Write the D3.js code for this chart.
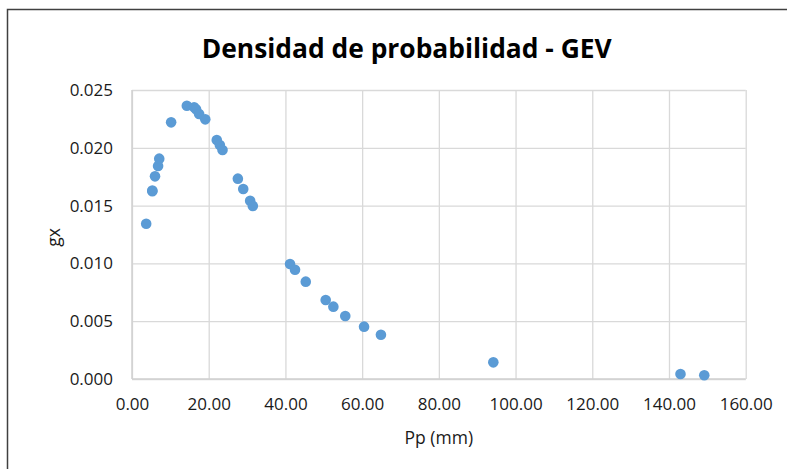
<!DOCTYPE html>
<html>
<head>
<meta charset="utf-8">
<script src="https://cdn.jsdelivr.net/npm/d3@7"></script>
<style>
  html, body { margin: 0; padding: 0; background: #fff; }
  svg { display: block; }
</style>
</head>
<body>
<svg id="chart" width="787" height="469"></svg>
<script>
const title = "Densidad de probabilidad - GEV";
const xTitle = "Pp (mm)";
const yTitle = "gx";
const xTicks = [0, 20, 40, 60, 80, 100, 120, 140, 160];
const yTicks = [0, 0.005, 0.010, 0.015, 0.020, 0.025];
const pp = [3.7, 5.3, 5.3, 6.0, 6.8, 7.1, 10.2, 14.3, 16.2, 16.7, 17.5, 19.1, 22.1, 22.9, 23.6,
            27.6, 29.0, 30.8, 31.5, 41.2, 42.5, 45.3, 50.5, 52.5, 55.6, 60.5, 64.9, 94.2, 143.0, 149.2];
const gx = [0.01343, 0.01624, 0.0163, 0.01753, 0.01843, 0.01906, 0.0222, 0.02364, 0.0235, 0.02333,
            0.02292, 0.02246, 0.02067, 0.02024, 0.01981, 0.01733, 0.01644, 0.01542, 0.01497, 0.00995,
            0.00945, 0.00842, 0.00683, 0.00626, 0.00545, 0.00453, 0.00383, 0.00144, 0.00043, 0.00032];

const svg = d3.select("#chart");
const font = "'Open Sans', 'Liberation Sans', sans-serif";
const pLeft = 132, pRight = 745.7, pTop = 90, pBottom = 379;

// chart border
svg.append("rect").attr("x", 7.5).attr("y", 9.5).attr("width", 800).attr("height", 500)
  .attr("fill", "#fff").attr("stroke", "#404040").attr("stroke-width", 1.5);

const x = d3.scaleLinear().domain([0, 160]).range([pLeft, pRight]);
const y = d3.scaleLinear().domain([0, 0.025]).range([pBottom, pTop]);

// gridlines
const yAxis = d3.axisLeft(y).tickValues(yTicks).tickSize(-(pRight - pLeft)).tickFormat(d3.format(".3f")).tickPadding(19);
const gy = svg.append("g").attr("transform", `translate(${pLeft},0)`).call(yAxis);
gy.select(".domain").remove();
gy.selectAll(".tick line").attr("stroke", "#d9d9d9").attr("stroke-width", 1.3);
gy.selectAll(".tick text").attr("font-family", font).attr("font-size", 17).attr("fill", "#1a1a1a");

const xAxis = d3.axisBottom(x).tickValues(xTicks).tickSize(-(pBottom - pTop)).tickFormat(d3.format(".2f")).tickPadding(19);
const gxA = svg.append("g").attr("transform", `translate(0,${pBottom})`).call(xAxis);
gxA.select(".domain").remove();
gxA.selectAll(".tick line").attr("stroke", "#d9d9d9").attr("stroke-width", 1.3);
gxA.selectAll(".tick text").attr("font-family", font).attr("font-size", 17).attr("fill", "#1a1a1a");

// axis lines
svg.append("line").attr("x1", pLeft).attr("x2", pRight).attr("y1", pBottom).attr("y2", pBottom)
  .attr("stroke", "#d0d0d0").attr("stroke-width", 1.5);
svg.append("line").attr("x1", pLeft).attr("x2", pLeft).attr("y1", pTop).attr("y2", pBottom)
  .attr("stroke", "#d0d0d0").attr("stroke-width", 1.5);

// points
svg.append("g").selectAll("circle").data(pp.map((v, i) => [v, gx[i]])).join("circle")
  .attr("cx", d => x(d[0])).attr("cy", d => y(d[1])).attr("r", 5.3)
  .attr("fill", "#5b9bd5");

// titles
svg.append("text").attr("x", 406.7).attr("y", 57.5).attr("text-anchor", "middle")
  .attr("font-family", font).attr("font-weight", "bold").attr("font-size", 26)
  .attr("textLength", 410).attr("lengthAdjust", "spacingAndGlyphs")
  .attr("fill", "#000").text(title);
svg.append("text").attr("x", (pLeft + pRight) / 2).attr("y", 444).attr("text-anchor", "middle")
  .attr("font-family", font).attr("font-size", 17.5).attr("fill", "#1a1a1a").text(xTitle);
svg.append("text").attr("transform", `translate(60,${(pTop + pBottom) / 2 + 3}) rotate(-90)`)
  .attr("text-anchor", "middle").attr("font-family", font).attr("font-size", 17.5)
  .attr("fill", "#1a1a1a").text(yTitle);
</script>
</body>
</html>
